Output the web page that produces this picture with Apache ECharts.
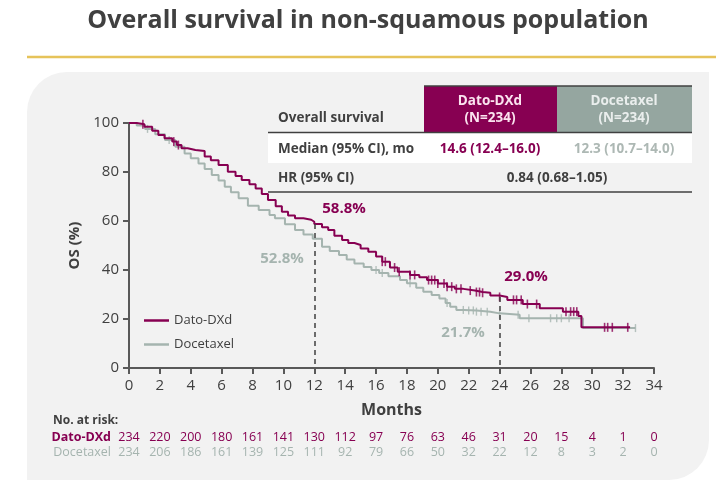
<!DOCTYPE html>
<html>
<head>
<meta charset="utf-8">
<script src="https://cdn.jsdelivr.net/npm/echarts@6/dist/echarts.min.js"></script>
<style>
  html, body { margin: 0; padding: 0; background: #fff; }
  #main { width: 716px; height: 488px; }
</style>
</head>
<body>
<div id="main"></div>
<script>
// KM curves (months, OS %)
var datoTime = [0, 0.5, 1.0, 1.5, 1.9, 2.3, 2.8, 3.1, 3.4, 3.8, 4.3, 4.9, 5.3, 5.8, 6.4, 6.9, 7.3, 7.8, 8.2, 8.6, 9.0, 9.5, 9.9, 10.3, 10.75, 11.3, 11.8, 12.0, 12.5, 12.9, 13.3, 13.8, 14.2, 14.6, 15.0, 15.5, 16.0, 16.4, 16.9, 17.4, 18.2, 18.8, 19.3, 20.0, 20.6, 21.1, 21.65, 22.4, 22.9, 23.4, 24.0, 24.5, 25.5, 26.6, 28.1, 29.1, 29.3, 32.45];
var datoOS   = [100, 99.5, 98.5, 96.8, 95.1, 93.8, 92.4, 91, 89.7, 89.0, 88.6, 86.3, 84.8, 82.9, 80.1, 78.4, 76.7, 75, 73.3, 71, 68.6, 66, 63.8, 62.2, 61.1, 60.5, 59.7, 58.8, 57.5, 56.3, 54, 52.2, 51, 50.2, 48.8, 47.5, 45.5, 43.4, 41, 39.3, 38, 37, 35.9, 34.5, 33.2, 32.3, 31.6, 31, 30.7, 29.6, 29.0, 27.8, 26.1, 24.4, 23, 21.2, 16.6, 16.6];

var doceTime = [0, 0.5, 1.04, 1.7, 2.33, 3.0, 3.6, 4.0, 4.5, 4.9, 5.36, 5.8, 6.2, 6.6, 7.1, 7.7, 8.4, 9.1, 9.45, 10.1, 10.75, 11.3, 11.9, 12.5, 13.0, 13.6, 14.1, 14.6, 15.2, 15.7, 16.2, 16.8, 17.55, 18.0, 18.6, 19.06, 19.6, 20.1, 20.5, 20.8, 21.2, 21.7, 22.5, 23.4, 24.0, 25.3, 29.4, 32.8];
var doceOS   = [100, 99, 97.6, 95.4, 93.1, 90.3, 87.6, 85.6, 83.5, 81.2, 78.8, 76.5, 74, 71.7, 69.3, 66.2, 64.5, 62.4, 61.1, 58.7, 56.3, 54.5, 52.8, 49.5, 47.8, 46.1, 44.3, 42.7, 41.2, 40, 38.8, 37.5, 35.9, 34.6, 32.8, 31.1, 29.8, 28.4, 26.5, 25, 23.7, 23.5, 23, 22.3, 21.7, 20.3, 16.3, 16.3];

// censoring ticks (months)
var datoCensor = [0.9, 2.9, 3.2, 16.4, 16.6, 17.2, 17.5, 18.2, 18.5, 19.4, 19.6, 19.8, 20.0, 20.4, 20.6, 20.9, 21.2, 21.5, 22.1, 22.5, 22.7, 22.9, 24.0, 24.9, 25.1, 25.4, 25.8, 26.4, 28.3, 28.6, 28.8, 29.0, 30.8, 31.0, 31.3, 32.3];
var doceCensor = [1.2, 2.6, 16.0, 16.4, 18.2, 20.6, 21.65, 22.0, 22.3, 22.5, 22.8, 23.2, 24.0, 25.2, 25.9, 27.3, 27.7, 28.0, 28.5, 32.8];

// number at risk, every 2 months
var riskDato = [234, 220, 200, 180, 161, 141, 130, 112, 97, 76, 63, 46, 31, 20, 15, 4, 1, 0];
var riskDoce = [234, 206, 186, 161, 139, 125, 111, 92, 79, 66, 50, 32, 22, 12, 8, 3, 2, 0];

var MAG = '#870052';
var GRY = '#a5b4af';
var TXT = '#404040';
var FONT = '"Open Sans", "Noto Sans", sans-serif';

function pairs(t, v) {
  return t.map(function (x, i) { return [x, v[i]]; });
}
function stepAt(t, v, x) {
  var s = v[0];
  for (var i = 0; i < t.length; i++) {
    if (t[i] <= x) s = v[i];
  }
  return s;
}
function censorPts(c, t, v) {
  return c.map(function (x) { return [x, stepAt(t, v, x)]; });
}

function riskAxis(list, color, offset) {
  return {
    type: 'value', gridIndex: 0, position: 'bottom', offset: offset,
    min: 0, max: 34, interval: 2,
    axisLine: { show: false }, axisTick: { show: false }, splitLine: { show: false },
    axisLabel: {
      margin: 3, color: color, fontSize: 12.5,
      fontFamily: '"Liberation Sans Narrow", "Open Sans", sans-serif',
      formatter: function (val) { return String(list[Math.round(val / 2)]); }
    }
  };
}

function txt(x, y, s, fill, font, align) {
  return {
    type: 'text', z: 12, x: x, y: y,
    style: { text: s, fill: fill, font: font, align: align || 'left', verticalAlign: 'middle' }
  };
}

var chart = echarts.init(document.getElementById('main'));
var TB = 'bold 13.5px ' + FONT;

chart.setOption({
  animation: false,
  backgroundColor: '#fff',
  textStyle: { fontFamily: FONT },
  grid: { left: 129, right: 62, top: 123, bottom: 120 },
  legend: {
    orient: 'vertical', left: 139, top: 309,
    itemWidth: 25, itemHeight: 2.5, itemGap: 11,
    textStyle: { color: TXT, fontSize: 13, fontFamily: FONT },
    data: [
      { name: 'Dato-DXd', icon: 'rect' },
      { name: 'Docetaxel', icon: 'rect' }
    ]
  },
  xAxis: [
    {
      type: 'value', min: 0, max: 34, interval: 2,
      name: 'Months', nameLocation: 'middle', nameGap: 34,
      nameTextStyle: { color: TXT, fontSize: 16, fontWeight: 'bold', fontFamily: FONT },
      axisLine: { lineStyle: { color: '#595959', width: 2 } },
      axisTick: { length: 6, lineStyle: { color: '#595959', width: 2 } },
      axisLabel: { color: TXT, fontSize: 15, margin: 10, fontFamily: FONT },
      splitLine: { show: false }
    },
    riskAxis(riskDato, MAG, 60),
    riskAxis(riskDoce, GRY, 75)
  ],
  yAxis: {
    type: 'value', min: 0, max: 100, interval: 20,
    name: 'OS (%)', nameLocation: 'middle', nameGap: 38, nameRotate: 90,
    nameTextStyle: { color: TXT, fontSize: 15, fontWeight: 'bold', fontFamily: FONT },
    axisLine: { show: true, lineStyle: { color: '#595959', width: 2 } },
    axisTick: { show: true, length: 6, lineStyle: { color: '#595959', width: 2 } },
    axisLabel: { color: TXT, fontSize: 15, margin: 10, fontFamily: FONT },
    splitLine: { show: false }
  },
  series: [
    {
      name: 'Docetaxel', type: 'line', step: 'end', showSymbol: false,
      data: pairs(doceTime, doceOS),
      lineStyle: { color: GRY, width: 2 }, itemStyle: { color: GRY },
      z: 2
    },
    {
      name: 'Dato-DXd', type: 'line', step: 'end', showSymbol: false,
      data: pairs(datoTime, datoOS),
      lineStyle: { color: MAG, width: 2 }, itemStyle: { color: MAG },
      z: 3,
      markLine: {
        silent: true, symbol: 'none', label: { show: false },
        lineStyle: { color: '#404040', type: [5, 4], width: 1.5 },
        data: [
          [{ coord: [12, 58.8] }, { coord: [12, 0] }],
          [{ coord: [24, 29.0] }, { coord: [24, 0] }]
        ]
      }
    },
    {
      name: 'doceCensor', type: 'scatter', symbol: 'rect', symbolSize: [1.4, 8],
      data: censorPts(doceCensor, doceTime, doceOS),
      itemStyle: { color: GRY }, z: 2
    },
    {
      name: 'datoCensor', type: 'scatter', symbol: 'rect', symbolSize: [1.6, 9],
      data: censorPts(datoCensor, datoTime, datoOS),
      itemStyle: { color: MAG }, z: 4
    }
  ],
  graphic: [
    // panel background and title
    { type: 'rect', z: -10, shape: { x: 27, y: 72, width: 682, height: 408, r: [40, 0, 40, 0] }, style: { fill: '#f2f2f2' } },
    { type: 'line', z: -5, shape: { x1: 27, y1: 57, x2: 716, y2: 57 }, style: { stroke: '#e6c35a', lineWidth: 2.5 } },
    txt(368, 21, 'Overall survival in non-squamous population', TXT, 'bold 25px ' + FONT, 'center'),

    // summary table
    { type: 'rect', z: 10, shape: { x: 268, y: 133, width: 424, height: 30 }, style: { fill: '#ffffff' } },
    { type: 'rect', z: 10, shape: { x: 424, y: 86, width: 133, height: 46 }, style: { fill: MAG } },
    { type: 'rect', z: 10, shape: { x: 557, y: 86, width: 135, height: 46 }, style: { fill: '#95a6a0' } },
    { type: 'line', z: 11, shape: { x1: 424, y1: 86, x2: 692, y2: 86 }, style: { stroke: '#404040', lineWidth: 1.5 } },
    { type: 'line', z: 11, shape: { x1: 268, y1: 132.5, x2: 692, y2: 132.5 }, style: { stroke: '#404040', lineWidth: 1.5 } },
    { type: 'line', z: 11, shape: { x1: 268, y1: 192, x2: 692, y2: 192 }, style: { stroke: '#404040', lineWidth: 1.5 } },
    txt(278, 118, 'Overall survival', TXT, TB),
    txt(490, 101, 'Dato-DXd', '#fbe3ef', TB, 'center'),
    txt(490, 118, '(N=234)', '#fbe3ef', TB, 'center'),
    txt(624, 101, 'Docetaxel', '#eaeeed', TB, 'center'),
    txt(624, 118, '(N=234)', '#eaeeed', TB, 'center'),
    txt(278, 149, 'Median (95% CI), mo', TXT, TB),
    txt(490, 149, '14.6 (12.4–16.0)', MAG, TB, 'center'),
    txt(624, 149, '12.3 (10.7–14.0)', '#adb8b4', TB, 'center'),
    txt(278, 178, 'HR (95% CI)', TXT, TB),
    txt(557, 178, '0.84 (0.68–1.05)', TXT, TB, 'center'),

    // landmark labels
    txt(344, 209, '58.8%', MAG, 'bold 15px ' + FONT, 'center'),
    txt(282, 259, '52.8%', GRY, 'bold 15px ' + FONT, 'center'),
    txt(526, 277, '29.0%', MAG, 'bold 15px ' + FONT, 'center'),
    txt(463, 333, '21.7%', GRY, 'bold 15px ' + FONT, 'center'),

    // number at risk row labels
    txt(53, 421, 'No. at risk:', TXT, 'bold 12px "Liberation Sans Narrow", ' + FONT),
    txt(111, 437, 'Dato-DXd', MAG, 'bold 12.5px "Liberation Sans Narrow", ' + FONT, 'right'),
    txt(111, 452, 'Docetaxel', GRY, '12.5px "Liberation Sans Narrow", ' + FONT, 'right')
  ]
});
</script>
</body>
</html>
